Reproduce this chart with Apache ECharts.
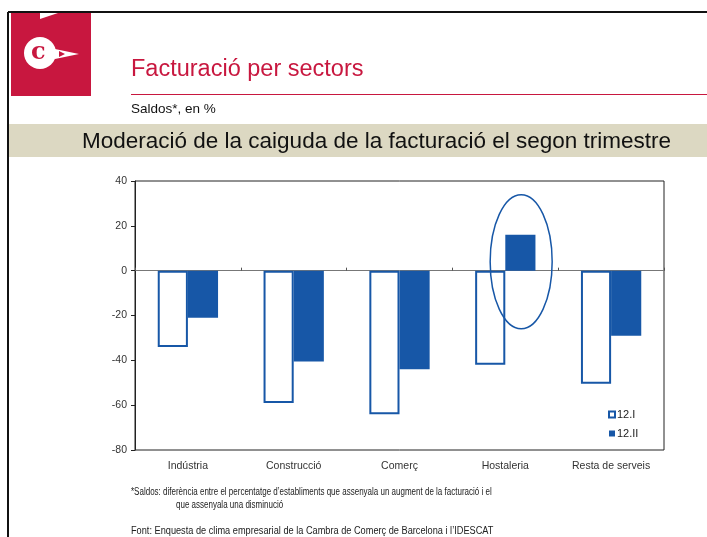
<!DOCTYPE html>
<html>
<head>
<meta charset="utf-8">
<script src="https://cdn.jsdelivr.net/npm/echarts@6/dist/echarts.min.js"></script>
<style>
  html, body { margin: 0; padding: 0; background: #fff; }
  #chart { width: 707px; height: 537px; }
</style>
</head>
<body>
<div id="chart"></div>
<script>
var categories = ['Indústria', 'Construcció', 'Comerç', 'Hostaleria', 'Resta de serveis'];
var serie1 = [-34, -59, -64, -42, -50.5];   // 12.I
var serie2 = [-21, -40.5, -44, 16, -29];    // 12.II
var seriesNames = ['12.I', '12.II'];

var blue = '#1757a7';
var crimson = '#c8173f';
var font = 'Liberation Sans, Arial, sans-serif';

var myChart = echarts.init(document.getElementById('chart'));

// footnote text, squeezed like a narrow font
function note(txt, x, y, sx) {
    return {
        type: 'text', x: x, y: y, scaleX: sx,
        style: { text: txt, fill: '#222', font: '10px ' + font, textVerticalAlign: 'top' }
    };
}

var option = {
    animation: false,
    backgroundColor: '#fff',
    textStyle: { fontFamily: font },
    grid: {
        left: 135, top: 181, right: 43, bottom: 87,
        show: true, borderColor: '#222', borderWidth: 1
    },
    legend: {
        orient: 'vertical',
        left: 603, top: 404,
        itemWidth: 6, itemHeight: 6, itemGap: 8,
        icon: 'rect',
        textStyle: { fontSize: 11, color: '#222', fontFamily: font, padding: [0, 0, 0, -3] },
        data: seriesNames
    },
    xAxis: [{
        type: 'category',
        data: categories,
        axisLine: { show: false, onZero: false },
        axisTick: { show: false },
        axisLabel: { fontSize: 10.5, color: '#333', margin: 11 }
    }, {
        type: 'category',
        data: categories,
        axisLine: { onZero: true, lineStyle: { color: '#777', width: 1 } },
        axisTick: { show: true, interval: 0, length: 3, lineStyle: { color: '#555' } },
        axisLabel: { show: false }
    }],
    yAxis: {
        type: 'value',
        min: -80, max: 40, interval: 20,
        axisLine: { show: true, lineStyle: { color: '#222' } },
        axisTick: { show: true, length: 4, lineStyle: { color: '#222' } },
        axisLabel: { fontSize: 10.5, color: '#333', margin: 8 },
        splitLine: { show: false }
    },
    series: [{
        name: seriesNames[0],
        type: 'bar',
        data: serie1,
        barGap: '0%',
        barCategoryGap: '43%',
        itemStyle: { color: '#fff', borderColor: blue, borderWidth: 2 }
    }, {
        name: seriesNames[1],
        type: 'bar',
        data: serie2,
        barGap: '0%',
        barCategoryGap: '43%',
        itemStyle: { color: blue }
    }],
    graphic: [
        // page frame
        { type: 'line', shape: { x1: 8, y1: 12, x2: 707, y2: 12 }, style: { stroke: '#111', lineWidth: 2 } },
        { type: 'line', shape: { x1: 8, y1: 12, x2: 8, y2: 537 }, style: { stroke: '#111', lineWidth: 2 } },
        // logo
        { type: 'rect', shape: { x: 11, y: 13, width: 80, height: 83 }, style: { fill: crimson } },
        { type: 'polygon', shape: { points: [[40, 13], [58, 13], [40, 19]] }, style: { fill: '#fff' } },
        { type: 'circle', shape: { cx: 40, cy: 53, r: 16 }, style: { fill: '#fff' } },
        { type: 'polygon', shape: { points: [[55, 49], [79, 54], [55, 59]] }, style: { fill: '#fff' } },
        { type: 'polygon', shape: { points: [[59, 51], [65, 54], [59, 57]] }, style: { fill: crimson } },
        { type: 'text', left: 31, top: 41, style: { text: 'c', fill: crimson, font: 'bold 24px "DejaVu Serif", serif' } },
        // header
        { type: 'text', left: 131, top: 58, style: { text: 'Facturació per sectors', fill: crimson, font: '23.5px ' + font } },
        { type: 'line', shape: { x1: 131, y1: 94.5, x2: 707, y2: 94.5 }, style: { stroke: crimson, lineWidth: 1 } },
        { type: 'text', left: 131, top: 102, style: { text: 'Saldos*, en %', fill: '#111', font: '13.5px ' + font } },
        { type: 'rect', shape: { x: 9, y: 124, width: 698, height: 33 }, style: { fill: '#dcd8c2' } },
        { type: 'text', left: 82, top: 130, style: { text: 'Moderació de la caiguda de la facturació el segon trimestre', fill: '#111', font: '22.5px ' + font } },
        // footnotes
        note('*Saldos: diferència entre el percentatge d’establiments que assenyala un augment de la facturació i el', 131, 487, 0.8),
        note('que assenyala una disminució', 176, 500, 0.8),
        note('Font: Enquesta de clima empresarial de la Cambra de Comerç de Barcelona i l’IDESCAT', 131, 526, 0.92)
    ]
};
myChart.setOption(option);

// highlight ellipse around the Hostaleria 12.II bar
var c = myChart.convertToPixel({ xAxisIndex: 0, yAxisIndex: 0 }, [categories[3], 4]);
var bandW = myChart.convertToPixel({ xAxisIndex: 0 }, categories[4]) - myChart.convertToPixel({ xAxisIndex: 0 }, categories[3]);
myChart.setOption({
    graphic: option.graphic.concat([{
        type: 'ellipse',
        shape: { cx: c[0] + bandW * 0.15, cy: c[1], rx: 31, ry: 67 },
        style: { fill: 'none', stroke: blue, lineWidth: 1.5 },
        z: 100
    }])
});
</script>
</body>
</html>
